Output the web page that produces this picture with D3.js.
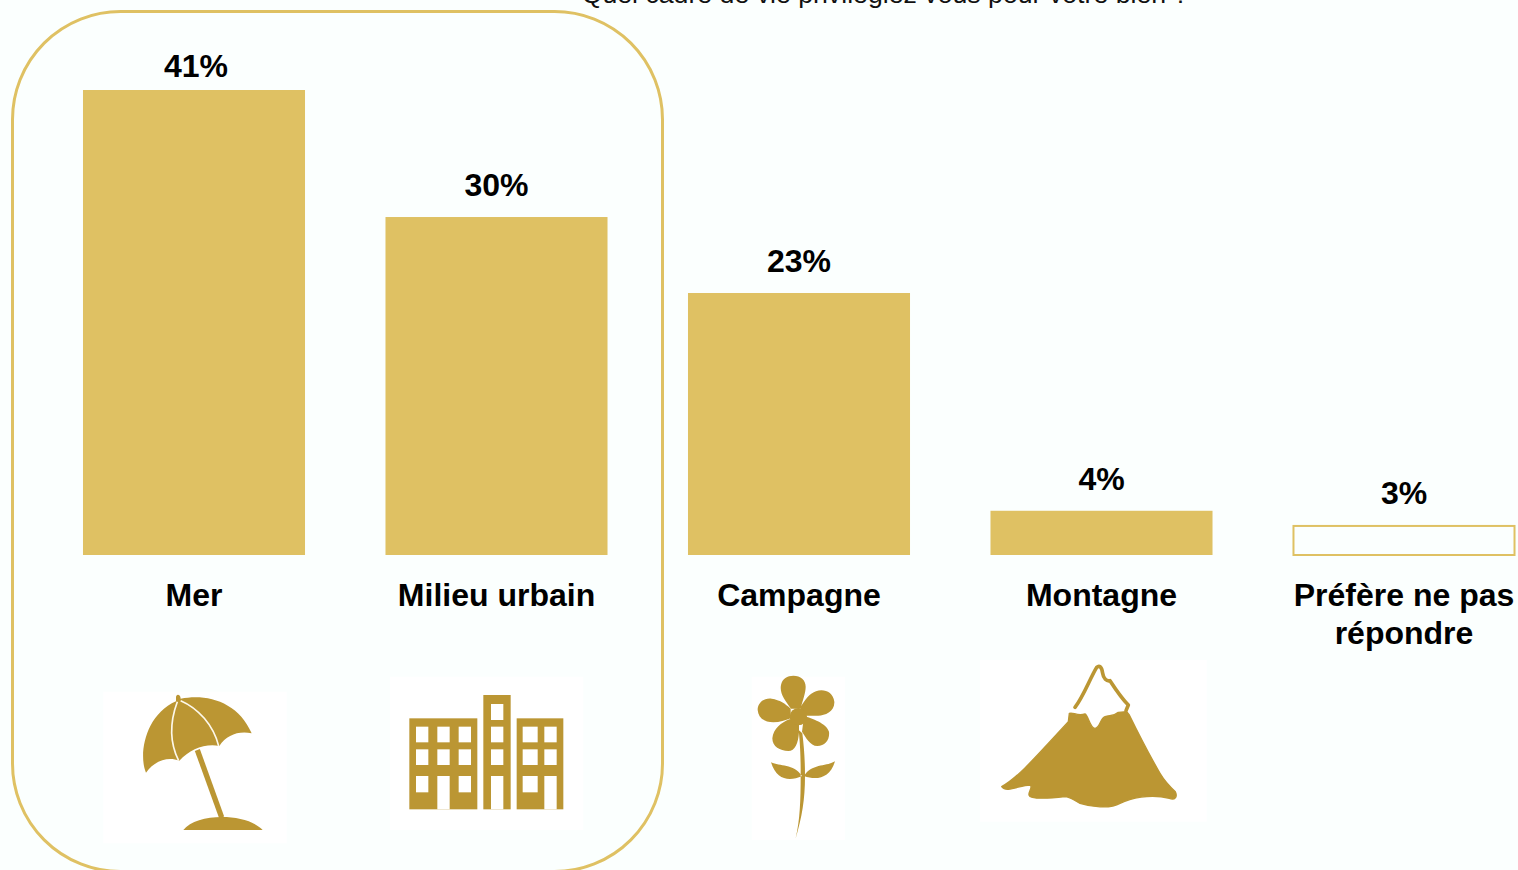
<!DOCTYPE html>
<html><head><meta charset="utf-8">
<script src="https://cdn.jsdelivr.net/npm/d3@7/dist/d3.min.js"></script>
<style>html,body{margin:0;padding:0;background:#fbfffe;overflow:hidden}svg{display:block}text{font-family:"Liberation Sans",Arial,sans-serif}</style>
</head><body><svg id="c" width="1518" height="870"></svg>
<script>
const categories=["Mer","Milieu urbain","Campagne","Montagne","Préfère ne pas répondre"];
const categoryLines=[["Mer"],["Milieu urbain"],["Campagne"],["Montagne"],["Préfère ne pas","répondre"]];
const values=[41,29.8,23.1,3.9,2.65];
const valueLabels=["41%","30%","23%","4%","3%"];
const outlined=[false,false,false,false,true];
const title="Quel cadre de vie privilégiez vous pour votre bien ?";
const gold="#dfc163",dark="#bb9633",bg="#fbfffe";

const svg=d3.select("#c");
const x=d3.scaleBand().domain(categories).range([42.75,1555.25]).paddingInner(0.266).paddingOuter(0.133);
const y=d3.scaleLinear().domain([0,41]).range([555,90]);

svg.append("rect").attr("width",1518).attr("height",870).attr("fill",bg);
svg.append("text").attr("x",885).attr("y",3).attr("text-anchor","middle").attr("font-size",26.7).attr("fill","#111").text(title);
svg.append("rect").attr("x",12.5).attr("y",11.5).attr("width",650).attr("height",860).attr("rx",108).attr("fill","none").attr("stroke",gold).attr("stroke-width",3);

svg.selectAll("rect.bar").data(categories).join("rect").attr("class","bar")
  .attr("x",(d,i)=>x(d)+(outlined[i]?0.5:0))
  .attr("width",(d,i)=>x.bandwidth()-(outlined[i]?1:0))
  .attr("y",(d,i)=>y(values[i])+(outlined[i]?1:0))
  .attr("height",(d,i)=>y(0)-y(values[i])-(outlined[i]?1:0))
  .attr("fill",(d,i)=>outlined[i]?bg:gold)
  .attr("stroke",(d,i)=>outlined[i]?gold:"none").attr("stroke-width",2);

svg.selectAll("text.val").data(categories).join("text").attr("class","val")
  .attr("x",(d,i)=>x(d)+x.bandwidth()/2+(i===0?2:0)).attr("y",(d,i)=>y(values[i])-(i===0?13:21))
  .attr("text-anchor","middle").attr("font-size",32).attr("font-weight",700).attr("fill","#000")
  .text((d,i)=>valueLabels[i]);

const lab=svg.selectAll("text.cat").data(categories).join("text").attr("class","cat")
  .attr("text-anchor","middle").attr("font-size",32).attr("font-weight",700).attr("fill","#000");
lab.each(function(d,i){
  d3.select(this).selectAll("tspan").data(categoryLines[i]).join("tspan")
    .attr("x",x(d)+x.bandwidth()/2).attr("y",(t,j)=>606+j*38).text(t=>t);
});

// Pictograms, drawn in a local 3x-zoomed frame
const icon=(ox,oy)=>svg.append("g").attr("transform",`translate(${ox},${oy}) scale(${1/3})`);
const umb=icon(90,660);
umb.append("rect").attr("x",40).attr("y",95).attr("width",550).attr("height",455).attr("fill","#fff");
umb.append("path").attr("fill",dark).attr("d","M258,112 C258,100 272,102 272,116 C350,100 445,125 485,220 C445,212 410,225 388,258 C345,250 300,268 268,302 C235,290 195,300 168,338 C145,285 165,165 258,124 Z");
umb.append("path").attr("fill","none").attr("stroke","#fdf8ea").attr("stroke-width",5).attr("d","M262,125 C238,190 240,250 266,302 M272,122 C325,145 370,195 386,258");
umb.append("line").attr("x1",322).attr("y1",270).attr("x2",395).attr("y2",472).attr("stroke",dark).attr("stroke-width",16);
umb.append("path").attr("fill",dark).attr("d","M280,510 C320,458 470,458 518,510 Z");

const bld=icon(90,660);
bld.append("rect").attr("x",900).attr("y",50).attr("width",580).attr("height",460).attr("fill","#fff");
const blocks=[[958,175,204,273],[1180,105,82,343],[1280,175,140,273]];
const holes=[[978,200,37,47],[1042,200,37,47],[1106,200,37,47],[978,268,37,47],[1042,268,37,47],[1106,268,37,47],[978,348,37,49],[1106,348,37,49],[1042,348,37,100],
 [1203,132,37,48],[1203,200,37,47],[1203,268,37,47],[1203,348,37,100],
 [1298,200,45,47],[1363,200,37,47],[1298,268,45,47],[1363,268,37,47],[1298,348,45,49],[1363,348,37,100]];
const rects=(g,a,f)=>a.forEach(r=>g.append("rect").attr("x",r[0]).attr("y",r[1]).attr("width",r[2]).attr("height",r[3]).attr("fill",f));
rects(bld,blocks,dark);rects(bld,holes,"#fff");

const flw=icon(730,650);
flw.append("rect").attr("x",65).attr("y",80).attr("width",280).attr("height",490).attr("fill","#fff");
flw.append("path").attr("fill",dark).attr("d",
 "M183,176 C165,150 148,130 153,105 C157,85 172,77 190,77 C212,77 227,90 227,110 C227,130 218,150 212,176 Z "+
 "M212,172 C225,148 240,130 258,124 C280,115 310,125 313,155 C315,185 285,197 265,197 C250,197 235,197 215,197 Z "+
 "M182,176 C165,160 150,150 125,146 C100,143 83,160 83,180 C85,205 105,217 130,217 C150,217 165,212 182,205 Z "+
 "M178,208 C155,218 130,235 127,265 C127,290 150,303 175,303 C195,303 205,280 207,245 L207,210 Z "+
 "M222,198 C245,205 290,220 297,245 C300,270 285,288 262,288 C240,288 226,260 216,245 Z "+
 "M206,240 C212,300 212,340 212,378 C212,450 210,510 197,565 C216,500 225,450 225,378 C225,330 222,290 217,250 Z "+
 "M123,337 C150,350 190,340 216,378 C180,395 140,392 123,337 Z "+
 "M315,334 C290,350 245,340 222,378 C260,392 300,385 315,334 Z");
flw.append("circle").attr("cx",205).attr("cy",200).attr("r",26).attr("fill",dark);

const mtn=icon(730,650);
mtn.append("rect").attr("x",750).attr("y",30).attr("width",680).attr("height",485).attr("fill","#fff");
mtn.append("path").attr("fill",dark).attr("stroke",dark).attr("stroke-width",4).attr("stroke-linejoin","round").attr("d","M815,410 C860,385 900,340 1015,215 L1018,190 C1030,185 1040,200 1065,192 C1075,195 1080,235 1095,235 C1110,235 1110,205 1125,200 C1140,195 1150,200 1165,187 L1190,185 L1198,195 C1220,240 1250,300 1290,370 C1305,395 1325,415 1336,425 C1343,440 1335,452 1318,445 C1260,430 1200,445 1170,460 C1140,478 1080,470 1050,460 C1030,450 1020,440 1005,440 C960,445 900,450 897,435 C895,425 910,410 900,405 C870,405 830,430 815,410 Z");
mtn.append("path").attr("fill","none").attr("stroke",dark).attr("stroke-width",11).attr("stroke-linecap","round").attr("stroke-linejoin","round").attr("d","M1035,172 C1060,140 1080,85 1100,52 C1108,45 1115,50 1118,70 C1120,85 1130,95 1140,92 C1155,115 1175,145 1195,165 L1188,182");
</script></body></html>
